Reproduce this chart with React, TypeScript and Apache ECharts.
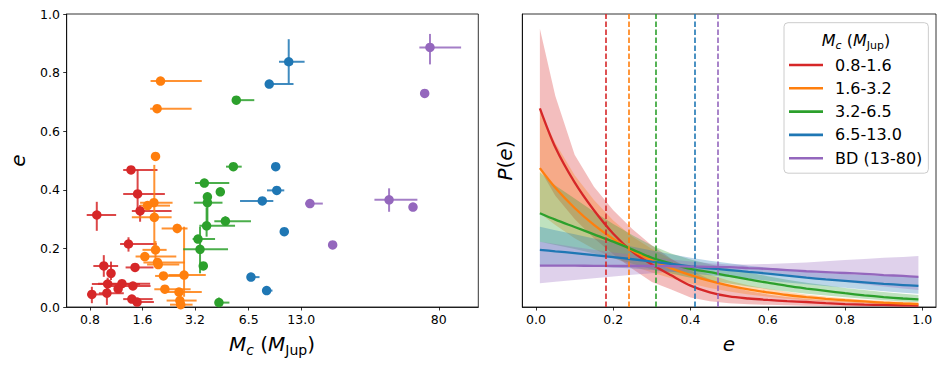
import React, { useEffect, useRef } from "react";
import * as echarts from "echarts";

const FONT = "DejaVu Sans";
const RED = "#d62728";
const ORANGE = "#ff7f0e";
const GREEN = "#2ca02c";
const BLUE = "#1f77b4";
const PURPLE = "#9467bd";
const COLORS = [RED, ORANGE, GREEN, BLUE, PURPLE];

// Left panel ticks
const MASS_TICKS = [0.8, 1.6, 3.2, 6.5, 13, 80];
const MASS_TICK_LABELS = ["0.8", "1.6", "3.2", "6.5", "13.0", "80"];

// points: [Mc, e, McLow, McHigh, eLow, eHigh]
const RED_PTS = [
  [1.375, 0.468, 1.24, 1.95, 0.468, 0.468],
  [1.5, 0.386, 1.24, 2.15, 0.325, 0.468],
  [1.55, 0.328, 1.39, 2.35, 0.291, 0.348],
  [0.875, 0.314, 0.766, 1.13, 0.26, 0.359],
  [1.33, 0.215, 1.19, 1.93, 0.189, 0.238],
  [0.96, 0.14, 0.836, 1.16, 0.103, 0.177],
  [1.45, 0.135, 1.28, 1.85, 0.135, 0.135],
  [1.056, 0.115, 1.056, 1.056, 0.092, 0.155],
  [1.01, 0.0785, 0.82, 1.55, 0.06, 0.1],
  [1.22, 0.0795, 0.89, 1.77, 0.0795, 0.0795],
  [1.41, 0.0717, 1.04, 1.78, 0.0717, 0.0717],
  [1.16, 0.062, 1.16, 1.16, 0.062, 0.062],
  [0.82, 0.043, 0.77, 0.96, 0.013, 0.069],
  [1.0, 0.047, 0.9, 1.25, 0.007, 0.092],
  [1.39, 0.027, 1.24, 1.83, 0.027, 0.027],
  [1.49, 0.017, 1.39, 1.86, 0.017, 0.017],
];
const ORANGE_PTS = [
  [2.03, 0.771, 1.78, 3.5, 0.771, 0.771],
  [1.94, 0.677, 1.77, 3.06, 0.677, 0.677],
  [1.9, 0.514, 1.8, 2.0, 0.514, 0.514],
  [1.86, 0.356, 1.55, 2.38, 0.356, 0.356],
  [1.71, 0.346, 1.55, 2.3, 0.346, 0.346],
  [1.87, 0.306, 1.39, 2.35, 0.195, 0.485],
  [2.53, 0.268, 2.06, 2.9, 0.252, 0.284],
  [1.9, 0.195, 1.6, 2.2, 0.16, 0.225],
  [1.65, 0.172, 1.46, 2.5, 0.172, 0.172],
  [1.95, 0.152, 1.62, 2.8, 0.152, 0.152],
  [1.97, 0.145, 1.7, 2.6, 0.145, 0.145],
  [2.77, 0.109, 2.25, 3.69, 0.035, 0.274],
  [2.11, 0.106, 1.89, 2.8, 0.106, 0.106],
  [2.15, 0.061, 1.87, 3.02, 0.061, 0.061],
  [2.59, 0.051, 2.11, 3.5, 0.051, 0.051],
  [2.62, 0.022, 2.2, 3.27, 0.022, 0.022],
  [2.65, 0.008, 2.3, 3.1, 0.008, 0.008],
];
const GREEN_PTS = [
  [5.52, 0.706, 5.3, 7.0, 0.706, 0.706],
  [5.31, 0.479, 4.82, 5.93, 0.479, 0.479],
  [3.62, 0.423, 3.2, 5.03, 0.423, 0.423],
  [4.47, 0.393, 4.47, 4.47, 0.393, 0.393],
  [3.77, 0.376, 3.77, 3.77, 0.376, 0.376],
  [3.77, 0.356, 3.15, 4.6, 0.274, 0.376],
  [4.78, 0.293, 4.13, 6.7, 0.28, 0.31],
  [3.73, 0.277, 3.39, 5.43, 0.24, 0.34],
  [3.33, 0.232, 3.1, 4.17, 0.232, 0.232],
  [3.42, 0.197, 2.74, 4.95, 0.115, 0.274],
  [3.57, 0.14, 3.57, 3.57, 0.14, 0.14],
  [4.39, 0.015, 4.2, 5.04, 0.0, 0.032],
];
const BLUE_PTS = [
  [11.03, 0.837, 9.7, 13.6, 0.763, 0.914],
  [8.53, 0.761, 8.07, 11.75, 0.761, 0.761],
  [9.29, 0.479, 9.29, 9.29, 0.479, 0.479],
  [9.42, 0.398, 8.28, 10.4, 0.398, 0.398],
  [7.78, 0.362, 5.8, 9.0, 0.362, 0.362],
  [10.4, 0.257, 10.4, 10.4, 0.257, 0.257],
  [6.7, 0.102, 6.6, 7.5, 0.102, 0.102],
  [8.24, 0.056, 8.1, 8.9, 0.056, 0.056],
];
const PURPLE_PTS = [
  [71.2, 0.886, 61.9, 107.4, 0.828, 0.932],
  [66.4, 0.729, 66.4, 66.4, 0.729, 0.729],
  [41.5, 0.366, 34.2, 60.3, 0.325, 0.405],
  [56.9, 0.341, 56.9, 56.9, 0.341, 0.341],
  [14.6, 0.353, 13.7, 17.3, 0.353, 0.353],
  [19.7, 0.212, 19.7, 19.7, 0.212, 0.212],
];
const GROUP_PTS = [RED_PTS, ORANGE_PTS, GREEN_PTS, BLUE_PTS, PURPLE_PTS];

// Right panel
const GROUP_NAMES = ["0.8-1.6", "1.6-3.2", "3.2-6.5", "6.5-13.0", "BD (13-80)"];
const E_AXIS_TICKS = [0, 0.2, 0.4, 0.6, 0.8, 1.0];
const E_GRID = [0.01, 0.05, 0.1, 0.15, 0.2, 0.25, 0.3, 0.35, 0.4, 0.45, 0.5, 0.55, 0.6, 0.65, 0.7, 0.75, 0.8, 0.85, 0.9, 0.95, 0.99];

const RED_MED = [67.8, 54.5, 42.5, 33.0, 25.0, 18.8, 14.5, 10.8, 7.3, 5.0, 3.6, 2.9, 2.4, 2.0, 1.7, 1.3, 1.0, 0.8, 0.7, 0.6, 0.5];
const RED_HI = [95, 72, 52, 41, 33, 26.5, 21, 16.5, 12.5, 9.5, 7.2, 5.5, 4.3, 3.4, 2.8, 2.3, 1.9, 1.6, 1.4, 1.3, 1.2];
const RED_LO = [47, 38, 30, 23.5, 18, 13, 8.5, 6.0, 3.2, 2.0, 1.3, 0.95, 0.75, 0.6, 0.45, 0.35, 0.25, 0.2, 0.15, 0.1, 0.1];

const ORANGE_MED = [47.4, 40.7, 33.8, 28, 23.2, 19.2, 15.9, 13.2, 10.9, 8.9, 7.3, 6.0, 5.0, 4.1, 3.4, 2.8, 2.3, 1.9, 1.5, 1.2, 1.0];
const ORANGE_HI = [67, 56, 45, 36.5, 29.5, 24, 19.8, 16.3, 13.4, 11, 9, 7.4, 6.2, 5.2, 4.3, 3.6, 3.0, 2.5, 2.1, 1.8, 1.6];
const ORANGE_LO = [32, 28, 23.5, 19.8, 16.8, 14, 11.8, 9.8, 8.0, 6.5, 5.3, 4.3, 3.5, 2.8, 2.3, 1.9, 1.5, 1.2, 0.9, 0.7, 0.5];

const GREEN_MED = [32.0, 29.8, 27.3, 24.8, 22.3, 19.6, 16.8, 14.8, 13.0, 11.9, 10.6, 9.4, 8.3, 7.2, 6.3, 5.5, 4.7, 4.0, 3.4, 2.9, 2.6];
const GREEN_HI = [46, 41.5, 37, 32.5, 28.3, 24.5, 21, 18.3, 16.2, 14.6, 13.1, 11.8, 10.5, 9.3, 8.3, 7.4, 6.5, 5.8, 5.1, 4.5, 4.1];
const GREEN_LO = [22.3, 21.2, 19.8, 18.3, 16.6, 14.8, 12.9, 11.4, 10.0, 9.0, 8.0, 7.0, 6.1, 5.3, 4.5, 3.9, 3.3, 2.8, 2.3, 1.9, 1.6];

const BLUE_MED = [19.5, 19.0, 18.4, 17.7, 17.0, 16.3, 15.5, 14.7, 13.9, 13.2, 12.6, 12.0, 11.4, 10.7, 10.0, 9.4, 8.9, 8.4, 7.9, 7.5, 7.2];
const BLUE_HI = [27.4, 26.2, 24.8, 23.4, 22.0, 20.6, 19.3, 18.0, 16.8, 15.8, 14.9, 14.1, 13.4, 12.7, 12.1, 11.6, 11.2, 10.9, 10.6, 10.4, 10.3];
const BLUE_LO = [14.3, 14.2, 14.0, 13.8, 13.5, 13.1, 12.6, 12.0, 11.4, 10.8, 10.2, 9.6, 9.0, 8.4, 7.8, 7.2, 6.6, 6.0, 5.4, 4.9, 4.5];

const PURPLE_MED = [14.1, 14.1, 14.1, 14.05, 14.0, 14.0, 14.0, 13.9, 13.8, 13.7, 13.6, 13.3, 13.0, 12.6, 12.2, 11.9, 11.6, 11.3, 10.9, 10.6, 10.3];
const PURPLE_HI = [22.3, 21.5, 20.5, 19.5, 18.6, 17.8, 17.0, 16.2, 15.5, 14.9, 14.5, 14.5, 14.7, 14.9, 15.2, 15.6, 16.0, 16.4, 16.8, 17.1, 17.4];
const PURPLE_LO = [8.1, 8.6, 9.2, 9.8, 10.4, 11.0, 11.5, 12.0, 12.4, 12.7, 12.8, 12.4, 11.8, 11.0, 10.2, 9.4, 8.6, 7.8, 7.0, 6.3, 5.8];

const MEDS = [RED_MED, ORANGE_MED, GREEN_MED, BLUE_MED, PURPLE_MED];
const HIS = [RED_HI, ORANGE_HI, GREEN_HI, BLUE_HI, PURPLE_HI];
const LOS = [RED_LO, ORANGE_LO, GREEN_LO, BLUE_LO, PURPLE_LO];
const MEAN_E = [0.181, 0.245, 0.314, 0.41, 0.475];

const L10 = (v: number) => Math.log10(v);

function errorBarSeries(pts: number[][], color: string) {
  return {
    type: "custom",
    xAxisIndex: 0,
    yAxisIndex: 0,
    z: 2,
    silent: true,
    data: pts.map((p) => [L10(p[0]), p[1], L10(p[2]), L10(p[3]), p[4], p[5]]),
    encode: { x: 0, y: 1 },
    renderItem: (params: any, api: any) => {
      const x = api.value(0);
      const y = api.value(1);
      const a = api.coord([api.value(2), y]);
      const b = api.coord([api.value(3), y]);
      const c = api.coord([x, api.value(4)]);
      const d = api.coord([x, api.value(5)]);
      const children: any[] = [];
      const st = { stroke: color, lineWidth: 2, opacity: 0.85 };
      if (Math.abs(b[0] - a[0]) > 0.5)
        children.push({ type: "line", shape: { x1: a[0], y1: a[1], x2: b[0], y2: b[1] }, style: st });
      if (Math.abs(d[1] - c[1]) > 0.5)
        children.push({ type: "line", shape: { x1: c[0], y1: c[1], x2: d[0], y2: d[1] }, style: st });
      return { type: "group", children };
    },
  };
}

function bandSeries(lo: number[], hi: number[], color: string, idx: number) {
  return {
    type: "custom",
    name: "band" + idx,
    xAxisIndex: 1,
    yAxisIndex: 1,
    z: 1,
    silent: true,
    data: E_GRID.map((e, k) => [e, lo[k], hi[k]]),
    encode: { x: 0, y: [1, 2] },
    renderItem: (params: any, api: any) => {
      if (params.dataIndex !== 0) return null;
      const upper = E_GRID.map((e, k) => api.coord([e, hi[k]]));
      const lower = E_GRID.map((e, k) => api.coord([e, lo[k]])).reverse();
      return {
        type: "polygon",
        shape: { points: upper.concat(lower) },
        style: { fill: color, opacity: 0.3 },
      };
    },
  };
}

function mathRich(size: number, sub: number, lh: number) {
  return {
    i: { fontFamily: FONT, fontStyle: "italic", fontSize: size, lineHeight: lh, color: "#000" },
    n: { fontFamily: FONT, fontSize: size, lineHeight: lh, color: "#000" },
    si: { fontFamily: FONT, fontStyle: "italic", fontSize: sub, lineHeight: sub, verticalAlign: "bottom", color: "#000" },
    s: { fontFamily: FONT, fontSize: sub, lineHeight: sub, verticalAlign: "bottom", color: "#000" },
  };
}

export default function App() {
  const ref = useRef<HTMLDivElement>(null);
  useEffect(() => {
    if (!ref.current) return;
    const chart = echarts.init(ref.current, undefined, { renderer: "svg" });
    const series: any[] = [];
    GROUP_PTS.forEach((pts, i) => series.push(errorBarSeries(pts, COLORS[i])));
    GROUP_PTS.forEach((pts, i) =>
      series.push({
        type: "scatter",
        xAxisIndex: 0,
        yAxisIndex: 0,
        z: 3,
        symbolSize: 9.5,
        itemStyle: { color: COLORS[i], opacity: 1 },
        data: pts.map((p) => [L10(p[0]), p[1]]),
      })
    );
    MEDS.forEach((m, i) => series.push(bandSeries(LOS[i], HIS[i], COLORS[i], i)));
    MEDS.forEach((m, i) =>
      series.push({
        type: "line",
        name: GROUP_NAMES[i],
        xAxisIndex: 1,
        yAxisIndex: 1,
        z: 3,
        smooth: 0.3,
        symbol: "none",
        lineStyle: { color: COLORS[i], width: 2.3 },
        itemStyle: { color: COLORS[i] },
        data: E_GRID.map((e, k) => [e, m[k]]),
        markLine: {
          silent: true,
          symbol: ["none", "none"],
          label: { show: false },
          lineStyle: { color: COLORS[i], width: 1.6, type: [5.5, 2.5] },
          data: [{ xAxis: MEAN_E[i] }],
        },
      })
    );

    const tickStyle = { show: true, length: 3.5, lineStyle: { color: "#000", width: 0.8 } };
    const lineStyle = { show: true, onZero: false, lineStyle: { color: "#000", width: 0.8 } };
    const labelStyle = { color: "#000", fontSize: 12.5, fontFamily: FONT };

    chart.setOption({
      animation: false,
      textStyle: { fontFamily: FONT },
      grid: [
        { left: 66.7, top: 14, width: 411.6, height: 293, show: true, borderColor: "#000", borderWidth: 0.8 },
        { left: 522.3, top: 14, width: 413.7, height: 293, show: true, borderColor: "#000", borderWidth: 0.8 },
      ],
      xAxis: [
        {
          type: "value",
          gridIndex: 0,
          min: -0.2305,
          max: 2.1296,
          axisLine: lineStyle,
          axisTick: { ...tickStyle, customValues: MASS_TICKS.map(L10) },
          axisLabel: {
            ...labelStyle,
            margin: 6,
            customValues: MASS_TICKS.map(L10),
            formatter: (v: number) => {
              let best = 0;
              MASS_TICKS.forEach((t, k) => {
                if (Math.abs(L10(t) - v) < Math.abs(L10(MASS_TICKS[best]) - v)) best = k;
              });
              return MASS_TICK_LABELS[best];
            },
          },
          splitLine: { show: false },
        },
        {
          type: "value",
          gridIndex: 1,
          min: -0.0355,
          max: 1.0355,
          axisLine: lineStyle,
          axisTick: { ...tickStyle, customValues: E_AXIS_TICKS },
          axisLabel: { ...labelStyle, margin: 6, customValues: E_AXIS_TICKS, formatter: (v: number) => v.toFixed(1) },
          splitLine: { show: false },
        },
      ],
      yAxis: [
        {
          type: "value",
          gridIndex: 0,
          min: 0,
          max: 1,
          interval: 0.2,
          axisLine: lineStyle,
          axisTick: tickStyle,
          axisLabel: { ...labelStyle, margin: 6.7, formatter: (v: number) => v.toFixed(1) },
          splitLine: { show: false },
        },
        {
          type: "value",
          gridIndex: 1,
          min: 0,
          max: 100,
          axisLine: lineStyle,
          axisTick: { show: false },
          axisLabel: { show: false },
          splitLine: { show: false },
        },
      ],
      legend: {
        data: GROUP_NAMES,
        orient: "vertical",
        left: 784,
        top: 22.7,
        padding: [33.3, 6, 6, 5],
        itemWidth: 34,
        itemHeight: 2.6,
        itemGap: 5.3,
        icon: "rect",
        selectedMode: false,
        textStyle: { fontSize: 16, lineHeight: 18, fontFamily: FONT, color: "#000", padding: [0, 0, 0, 7] },
        borderColor: "#cccccc",
        borderWidth: 1,
        borderRadius: 4,
        backgroundColor: "rgba(255,255,255,0.8)",
      },
      graphic: [
        {
          type: "text",
          x: 272,
          y: 344,
          z: 100,
          style: {
            text: "{i|M}{si|c}{n| (}{i|M}{s|Jup}{n|)}",
            rich: mathRich(20, 14, 26),
            align: "center",
            verticalAlign: "middle",
          },
        },
        {
          type: "text",
          x: 729,
          y: 343.7,
          z: 100,
          style: { text: "e", fontFamily: FONT, fontStyle: "italic", fontSize: 20, fill: "#000", align: "center", verticalAlign: "middle" },
        },
        {
          type: "text",
          x: 18.4,
          y: 160.5,
          z: 100,
          rotation: Math.PI / 2,
          style: { text: "e", fontFamily: FONT, fontStyle: "italic", fontSize: 20, fill: "#000", align: "center", verticalAlign: "middle" },
        },
        {
          type: "text",
          x: 505,
          y: 160.5,
          z: 100,
          rotation: Math.PI / 2,
          style: {
            text: "{i|P}{n|(}{i|e}{n|)}",
            rich: mathRich(20, 14, 24),
            align: "center",
            verticalAlign: "middle",
          },
        },
        {
          type: "text",
          x: 856,
          y: 40,
          z: 100,
          style: {
            text: "{i|M}{si|c}{n| (}{i|M}{s|Jup}{n|)}",
            rich: mathRich(16, 11, 21),
            align: "center",
            verticalAlign: "middle",
          },
        },
      ],
      series,
    });
    return () => chart.dispose();
  }, []);
  return <div ref={ref} style={{ position: "absolute", left: 0, top: 0, width: 946, height: 369 }} />;
}
